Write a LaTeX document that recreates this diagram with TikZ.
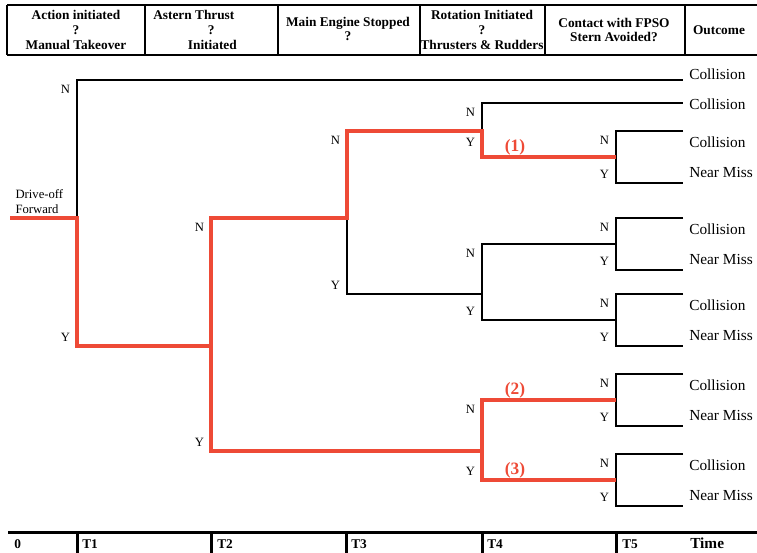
\documentclass[tikz,border=0pt]{standalone}
\usepackage{fontspec}
\setmainfont{Liberation Serif}
\usepackage{xcolor}
\usepackage{tikz}
\usetikzlibrary{positioning}
\definecolor{pathred}{RGB}{238,74,54}

\begin{document}
\begin{tikzpicture}[
        x=0.75pt, y=-0.75pt,
        hdr/.style={font=\fontsize{10}{11.2}\selectfont\bfseries, align=center, inner sep=0pt},
        yn/.style={font=\fontsize{9.5}{11}\selectfont, inner sep=0pt},
        outc/.style={font=\fontsize{11.5}{13}\selectfont, anchor=west, inner sep=0pt},
        tlab/.style={font=\fontsize{10}{12}\selectfont\bfseries, anchor=west, inner sep=0pt},
        pathno/.style={font=\fontsize{13}{15}\selectfont\bfseries, text=pathred, inner sep=0pt},
        branch/.style={line width=2.2pt, line join=miter},
        chosen/.style={line width=3pt, draw=pathred, line join=miter},
        frame/.style={line width=2.2pt},
        axis/.style={line width=2.25pt},
    ]
        \useasboundingbox (0,0) rectangle (757,553);

        % event header
        \draw[frame] (7,5) -- (760,5);
        \draw[frame] (7,55) -- (760,55);
        \foreach \x in {7,145,278,420,545,685}
            \draw[frame] (\x,5) -- (\x,55);
        \node[hdr] (h1) at (76,30) {Action initiated\\?\\Manual Takeover};
        \node[hdr, align=left, anchor=west] (h2) at (153,30)
            {Astern Thrust\\\hspace*{41pt}?\\\hspace*{26pt}Initiated};
        \node[hdr, font=\fontsize{10}{11}\selectfont\bfseries] (h3) at (348,29) {Main Engine Stopped\\?};
        \node[hdr] (h4) at (482,30) {Rotation Initiated\\?\\Thrusters \& Rudders};
        \node[hdr, font=\fontsize{10}{11}\selectfont\bfseries] (h5) at (614,30) {Contact with FPSO\\Stern Avoided?};
        \node[hdr] (h6) at (719,30) {Outcome};

        % branch points
        \coordinate (start) at (10,218);
        \coordinate (d1)  at (77,218);
        \coordinate (d1n) at (77,80);
        \coordinate (d1y) at (77,346);
        \coordinate (d2)  at (211,346);
        \coordinate (d2n) at (211,218);
        \coordinate (d2y) at (211,451);
        \coordinate (d3)  at (347,218);
        \coordinate (d3n) at (347,131);
        \coordinate (d3y) at (347,294);
        \coordinate (d4a)  at (482,131);
        \coordinate (d4an) at (482,103);
        \coordinate (d4ay) at (482,157);
        \coordinate (d4b)  at (482,294);
        \coordinate (d4bn) at (482,244);
        \coordinate (d4by) at (482,320);
        \coordinate (d4c)  at (482,451);
        \coordinate (d4cn) at (482,400);
        \coordinate (d4cy) at (482,480);
        \coordinate (e1n)  at (683,80);
        \coordinate (e4an) at (683,103);

        \node[yn, align=left, above right=3pt and 4pt of start] (init) {Drive-off\\Forward};

        % black branches
        \draw[branch] (d1) -- (d1n) -- (e1n);
        \draw[branch] (d3) -- (d3y) -- (d4b);
        \draw[branch] (d4a) -- (d4an) -- (e4an);
        \draw[branch] (616,244) -- (d4bn) -- (d4by) -- (616,320);

        % last event: contact with stern avoided?
        \foreach \k/\y in {a/157, b/244, c/320, d/400, e/480} {
            \coordinate (d5\k) at (616,\y);
            \coordinate (n5\k) at (616,\y-26);
            \coordinate (y5\k) at (616,\y+26);
            \coordinate (en5\k) at (683,\y-26);
            \coordinate (ey5\k) at (683,\y+26);
            \draw[branch] (en5\k) -- (n5\k) -- (y5\k) -- (ey5\k);
            \node[yn, below left=4pt and 5pt of n5\k] (ln5\k) {N};
            \node[yn, above left=3pt and 5pt of y5\k] (ly5\k) {Y};
            \node[outc] (on5\k) at (689,\y-15) {Collision};
            \node[outc] (oy5\k) at (689,\y+15) {Near Miss};
        }

        % red sequences
        \draw[chosen] (start) -- (d1) -- (d1y) -- (d2) -- (d2n) -- (d3) -- (d3n)
            -- (d4a) -- (d4ay) -- (d5a);
        \draw[chosen] (d2) -- (d2y) -- (d4c) -- (d4cn) -- (d5d);
        \draw[chosen] (d4c) -- (d4cy) -- (d5e);
        \node[pathno, above right=1.5pt and 17pt of d4ay] (p1) {(1)};
        \node[pathno, above right=1.5pt and 17pt of d4cn] (p2) {(2)};
        \node[pathno, above right=1.5pt and 17pt of d4cy] (p3) {(3)};

        % N / Y labels
        \node[yn, below left=4pt and 5pt of d1n] (l1n) {N};
        \node[yn, above left=3pt and 5pt of d1y] (l1y) {Y};
        \node[yn, below left=4pt and 5pt of d2n] (l2n) {N};
        \node[yn, above left=3pt and 5pt of d2y] (l2y) {Y};
        \node[yn, below left=4pt and 5pt of d3n] (l3n) {N};
        \node[yn, above left=3pt and 5pt of d3y] (l3y) {Y};
        \node[yn, below left=4pt and 5pt of d4an] (l4an) {N};
        \node[yn, above left=8pt and 5pt of d4ay] (l4ay) {Y};
        \node[yn, below left=4pt and 5pt of d4bn] (l4bn) {N};
        \node[yn, above left=3pt and 5pt of d4by] (l4by) {Y};
        \node[yn, below left=4pt and 5pt of d4cn] (l4cn) {N};
        \node[yn, above left=3pt and 5pt of d4cy] (l4cy) {Y};

        \node[outc] (o1) at (689,74) {Collision};
        \node[outc] (o2) at (689,104) {Collision};

        % time axis
        \draw[axis] (8,532) -- (760,532);
        \foreach \x in {77,211,346,482,616}
            \draw[axis] (\x,532) -- (\x,556);
        \node[tlab] (t0) at (14,544) {0};
        \node[tlab] (t1) at (82,544) {T1};
        \node[tlab] (t2) at (217,544) {T2};
        \node[tlab] (t3) at (351,544) {T3};
        \node[tlab] (t4) at (487,544) {T4};
        \node[tlab] (t5) at (622,544) {T5};
        \node[tlab, font=\fontsize{11.5}{13}\selectfont\bfseries] (time) at (690,543) {Time};
\end{tikzpicture}
\end{document}
